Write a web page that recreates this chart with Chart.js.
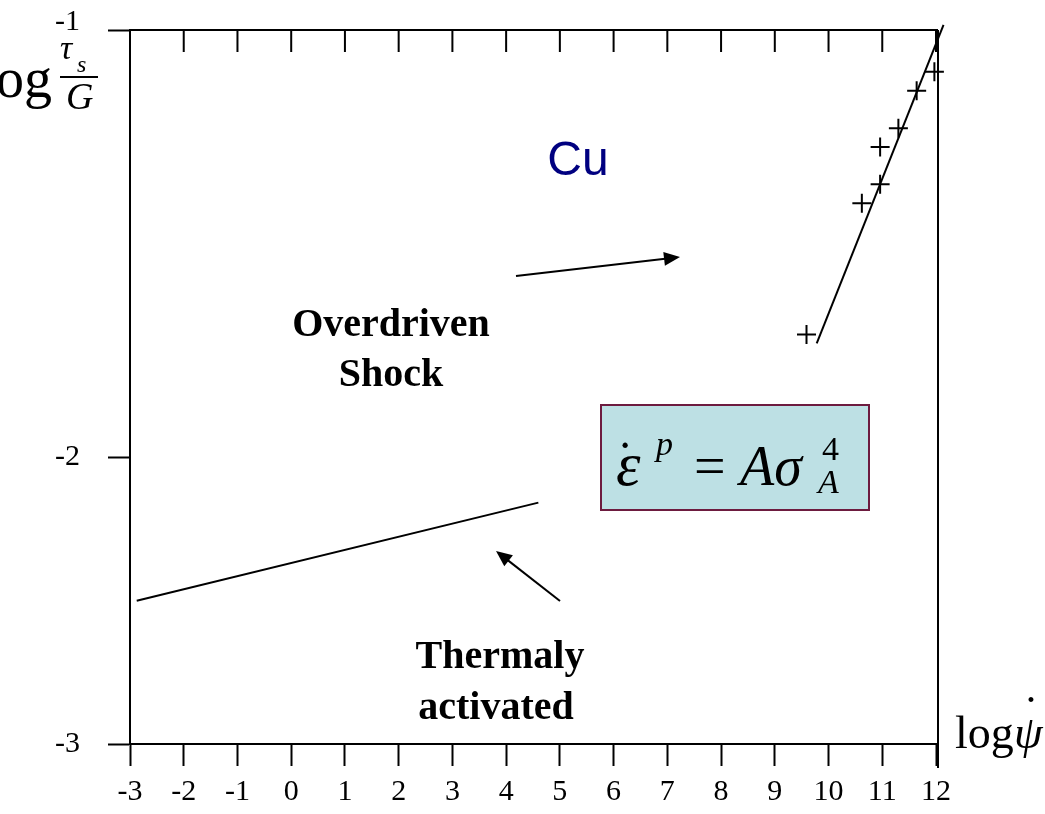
<!DOCTYPE html>
<html>
<head>
<meta charset="utf-8">
<script src="https://cdn.jsdelivr.net/npm/chart.js@4"></script>
<style>
  html, body { margin:0; padding:0; background:#fff; }
  canvas { display:block; }
</style>
</head>
<body>
<canvas id="c" width="1045" height="814"></canvas>
<script>
// values
const xTicks = [-3,-2,-1,0,1,2,3,4,5,6,7,8,9,10,11,12];
const yTicksUpper = [-2,-1];   // upper band of the split y axis
const yTicksLower = [-3];      // lower band

const shockX = [9.59, 10.62, 10.96, 10.96, 11.30, 11.64, 11.97];
const shockY = [-1.713, -1.406, -1.361, -1.274, -1.230, -1.142, -1.098];

const shockFitX = [9.78, 12.14];
const shockFitY = [-1.734, -0.988];

const thermalX = [-2.875, 4.60];
const thermalY = [-2.501, -2.159];

const zip = (xs, ys) => xs.map((x,i) => ({ x, y: ys[i] }));

const SERIF = '"Liberation Serif", "Times New Roman", serif';

function arrow(ctx, x1, y1, x2, y2){
  const ang = Math.atan2(y2-y1, x2-x1);
  const len = 16, hw = 7;
  ctx.beginPath();
  ctx.moveTo(x1, y1);
  ctx.lineTo(x2 - Math.cos(ang)*len*0.8, y2 - Math.sin(ang)*len*0.8);
  ctx.stroke();
  ctx.beginPath();
  ctx.moveTo(x2, y2);
  ctx.lineTo(x2 - Math.cos(ang)*len + Math.sin(ang)*hw, y2 - Math.sin(ang)*len - Math.cos(ang)*hw);
  ctx.lineTo(x2 - Math.cos(ang)*len - Math.sin(ang)*hw, y2 - Math.sin(ang)*len + Math.cos(ang)*hw);
  ctx.closePath();
  ctx.fill();
}

const deco = {
  id: "deco",
  afterDraw(chart){
    const { ctx, chartArea: a, scales } = chart;
    const sx = scales.x;
    ctx.save();
    ctx.strokeStyle = "#000";
    ctx.fillStyle = "#000";
    ctx.lineWidth = 2;

    // top frame with inward ticks, right frame
    ctx.beginPath();
    ctx.moveTo(a.left, a.top); ctx.lineTo(a.right + 2, a.top);
    ctx.moveTo(a.right + 2, a.top); ctx.lineTo(a.right + 2, a.bottom + 24);
    xTicks.forEach(v => {
      const px = sx.getPixelForValue(v);
      ctx.moveTo(px, a.top); ctx.lineTo(px, a.top + 22);
    });
    ctx.stroke();

    // axis titles
    ctx.textBaseline = "alphabetic";
    ctx.textAlign = "right";
    ctx.font = `56px ${SERIF}`;
    ctx.fillText("log", 52, 97);
    ctx.textAlign = "left";
    ctx.font = `italic 34px ${SERIF}`;
    ctx.fillText("τ", 60, 59);
    ctx.font = `italic 24px ${SERIF}`;
    ctx.fillText("s", 77, 72);
    ctx.beginPath(); ctx.moveTo(60, 77); ctx.lineTo(98, 77); ctx.stroke();
    ctx.font = `italic 38px ${SERIF}`;
    ctx.fillText("G", 66, 109);

    ctx.font = `46px ${SERIF}`;
    ctx.fillText("log", 955, 748);
    ctx.font = `italic 46px ${SERIF}`;
    ctx.fillText("ψ", 1014, 748);
    ctx.textAlign = "center";
    ctx.font = `46px ${SERIF}`;
    ctx.fillText("˙", 1031, 728);

    // labels
    ctx.fillStyle = "#000080";
    ctx.font = `48px "Liberation Sans", Arial, sans-serif`;
    ctx.textBaseline = "middle";
    ctx.fillText("Cu", 578, 162);

    ctx.fillStyle = "#000";
    ctx.textBaseline = "alphabetic";
    ctx.font = `bold 40px ${SERIF}`;
    ctx.fillText("Overdriven", 391, 336);
    ctx.fillText("Shock", 391, 386);
    ctx.fillText("Thermaly", 500, 668);
    ctx.fillText("activated", 496, 719);

    // arrows
    arrow(ctx, 516, 276, 680, 257);
    arrow(ctx, 560, 601, 496, 551);

    // formula box
    ctx.fillStyle = "#BDE0E4";
    ctx.fillRect(601, 405, 268, 105);
    ctx.strokeStyle = "#6D1B3F";
    ctx.strokeRect(601, 405, 268, 105);

    ctx.fillStyle = "#000";
    ctx.textAlign = "left";
    ctx.font = `italic 62px ${SERIF}`;
    ctx.fillText("ε", 616, 485);
    ctx.textAlign = "center";
    ctx.font = `50px ${SERIF}`;
    ctx.fillText("˙", 625, 476);
    ctx.textAlign = "left";
    ctx.font = `italic 34px ${SERIF}`;
    ctx.fillText("p", 656, 455);
    ctx.font = `56px ${SERIF}`;
    ctx.fillText("=", 694, 485);
    ctx.font = `italic 56px ${SERIF}`;
    ctx.fillText("Aσ", 740, 485);
    ctx.font = `34px ${SERIF}`;
    ctx.fillText("4", 822, 460);
    ctx.font = `italic 34px ${SERIF}`;
    ctx.fillText("A", 818, 493);

    ctx.restore();
  }
};

const tickFont = { family: SERIF, size: 30 };
const noPad = s => { s.paddingTop = 0; s.paddingBottom = 0; s.paddingLeft = 0; s.paddingRight = 0; };

new Chart(document.getElementById("c"), {
  type: "scatter",
  data: {
    datasets: [
      {
        label: "Shock data",
        data: zip(shockX, shockY),
        yAxisID: "y",
        pointStyle: "cross",
        pointRadius: 9.5,
        pointBorderWidth: 2,
        borderColor: "#000",
        backgroundColor: "#000",
        showLine: false,
        clip: false
      },
      {
        label: "Shock fit",
        data: zip(shockFitX, shockFitY),
        yAxisID: "y",
        showLine: true,
        borderColor: "#000",
        borderWidth: 2,
        pointRadius: 0,
        clip: false
      },
      {
        label: "Thermal",
        data: zip(thermalX, thermalY),
        yAxisID: "y2",
        showLine: true,
        borderColor: "#000",
        borderWidth: 2,
        pointRadius: 0
      }
    ]
  },
  options: {
    responsive: false,
    animation: false,
    devicePixelRatio: 1,
    layout: { padding: { top: 30, right: 109, left: 0, bottom: 0 } },
    plugins: { legend: { display: false }, tooltip: { enabled: false } },
    scales: {
      x: {
        type: "linear",
        min: -3, max: 12,
        afterBuildTicks: s => { s.ticks = xTicks.map(v => ({ value: v })); },
        afterFit: s => { s.height = 70; noPad(s); },
        ticks: { font: tickFont, color: "#000", padding: 8, maxRotation: 0, autoSkip: false },
        grid: { drawOnChartArea: false, drawTicks: true, tickLength: 22, tickColor: "#000", tickWidth: 2 },
        border: { display: true, color: "#000", width: 2 }
      },
      y: {
        type: "linear",
        position: "left",
        stack: "ys",
        stackWeight: 427,
        weight: 1,
        min: -2, max: -1,
        afterBuildTicks: s => { s.ticks = yTicksUpper.map(v => ({ value: v })); },
        afterFit: s => { s.width = 130; noPad(s); },
        // top label sits a little above its tick, as in the original
        ticks: {
          font: { family: SERIF, size: 30, lineHeight: 0.5 },
          color: "#000", padding: 28,
          callback: v => v === -1 ? ["-1", ""] : String(v)
        },
        grid: { drawOnChartArea: false, drawTicks: true, tickLength: 22, tickColor: "#000", tickWidth: 2 },
        border: { display: true, color: "#000", width: 2 }
      },
      y2: {
        type: "linear",
        position: "left",
        stack: "ys",
        stackWeight: 287,
        weight: 0,
        min: -3, max: -2,
        afterBuildTicks: s => { s.ticks = yTicksLower.map(v => ({ value: v })); },
        afterFit: s => { s.width = 130; noPad(s); },
        ticks: { font: tickFont, color: "#000", padding: 28 },
        grid: { drawOnChartArea: false, drawTicks: true, tickLength: 22, tickColor: "#000", tickWidth: 2 },
        border: { display: true, color: "#000", width: 2 }
      }
    }
  },
  plugins: [deco]
});
</script>
</body>
</html>
